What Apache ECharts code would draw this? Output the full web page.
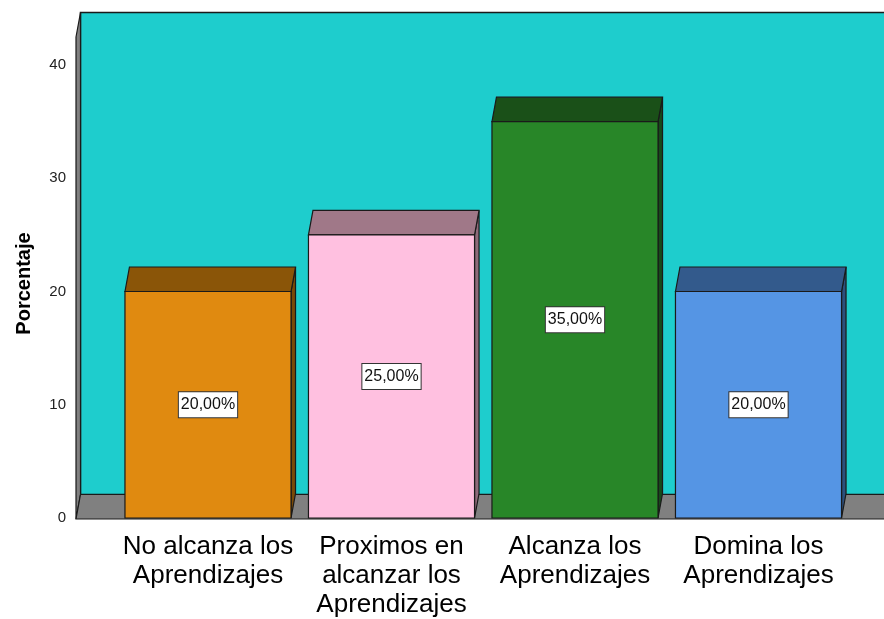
<!DOCTYPE html>
<html>
<head>
<meta charset="utf-8">
<script src="https://cdn.jsdelivr.net/npm/echarts@6/dist/echarts.min.js"></script>
<style>
  html, body { margin: 0; padding: 0; background: #ffffff; }
  #chart { width: 884px; height: 619px; }
</style>
</head>
<body>
<div id="chart"></div>
<script>
// ---- data ----
const categories = [
  'No alcanza los\nAprendizajes',
  'Proximos en\nalcanzar los\nAprendizajes',
  'Alcanza los\nAprendizajes',
  'Domina los\nAprendizajes'
];
const values = [20, 25, 35, 20];
const yAxisName = 'Porcentaje';

// ---- styles ----
const frontColors = ['#E08A10', '#FFC0E0', '#288628', '#5595E4'];
const topColors   = ['#8A5508', '#A07888', '#1A5018', '#335A8C'];
const sideColors  = ['#7A4A07', '#8E6A7A', '#17491A', '#2C4F7C'];
const wallColor = '#1ECDCD';
const floorColor = '#808080';
const edgeColor = '#1a1a1a';
const DX = 4.5, DY = -24.5;       // 3D depth offset
const AXIS_X = 76, Y0 = 519, WALL_TOP = 37, RIGHT = 890;

const chart = echarts.init(document.getElementById('chart'), null, { renderer: 'canvas' });

function fmt(v) { return v.toFixed(2).replace('.', ',') + '%'; }

const option = {
  animation: false,
  backgroundColor: '#ffffff',
  grid: { left: 116.25, right: 33.75, top: 65, bottom: 100, containLabel: false },
  graphic: [
    { type: 'rect', z: -10, silent: true,
      shape: { x: AXIS_X + DX, y: WALL_TOP + DY, width: RIGHT - AXIS_X, height: Y0 - WALL_TOP },
      style: { fill: wallColor, stroke: edgeColor, lineWidth: 1.5 } },
    { type: 'polygon', z: -9, silent: true,
      shape: { points: [[AXIS_X, WALL_TOP], [AXIS_X + DX, WALL_TOP + DY], [AXIS_X + DX, Y0 + DY], [AXIS_X, Y0]] },
      style: { fill: floorColor, stroke: edgeColor, lineWidth: 1.2 } },
    { type: 'polygon', z: -9, silent: true,
      shape: { points: [[AXIS_X, Y0], [AXIS_X + DX, Y0 + DY], [RIGHT, Y0 + DY], [RIGHT, Y0]] },
      style: { fill: floorColor, stroke: edgeColor, lineWidth: 1.2 } }
  ],
  xAxis: {
    type: 'category',
    data: categories,
    axisLine: { show: false },
    axisTick: { show: false },
    splitLine: { show: false },
    axisLabel: {
      interval: 0,
      margin: 14,
      fontSize: 26,
      lineHeight: 29,
      color: '#000',
      fontFamily: '"Liberation Sans", Arial, sans-serif'
    }
  },
  yAxis: {
    type: 'value',
    min: 0,
    max: 40,
    interval: 10,
    offset: 40.25,
    name: yAxisName,
    nameLocation: 'middle',
    nameRotate: 90,
    nameGap: 42,
    nameTextStyle: {
      fontSize: 20,
      fontWeight: 'bold',
      color: '#000',
      fontFamily: '"Liberation Sans", Arial, sans-serif',
      padding: [0, 0, 0, 16]
    },
    axisLine: { show: false },
    axisTick: { show: false },
    splitLine: { show: false },
    axisLabel: {
      margin: 10,
      fontSize: 15,
      color: '#222',
      fontFamily: '"Liberation Sans Narrow", "Arial Narrow", "Liberation Sans", sans-serif'
    }
  },
  series: [{
    type: 'custom',
    data: values.map((v, i) => [i, v]),
    encode: { x: 0, y: 1 },
    renderItem: function (params, api) {
      const idx = api.value(0);
      const v = api.value(1);
      const base = api.coord([idx, 0]);
      const top = api.coord([idx, v]);
      const mid = api.coord([idx, v / 2]);
      const band = api.size([1, 0])[0];
      const w = band * 0.905;
      const xl = base[0] - w / 2, xr = base[0] + w / 2;
      const yb = base[1], yt = top[1];
      return {
        type: 'group',
        children: [
          { type: 'polygon',
            shape: { points: [[xr, yt], [xr + DX, yt + DY], [xr + DX, yb + DY], [xr, yb]] },
            style: { fill: sideColors[idx], stroke: edgeColor, lineWidth: 1.2 } },
          { type: 'polygon',
            shape: { points: [[xl, yt], [xl + DX, yt + DY], [xr + DX, yt + DY], [xr, yt]] },
            style: { fill: topColors[idx], stroke: edgeColor, lineWidth: 1.2 } },
          { type: 'rect',
            shape: { x: xl, y: yt, width: w, height: yb - yt },
            style: { fill: frontColors[idx], stroke: edgeColor, lineWidth: 1.2 } },
          { type: 'text',
            x: base[0], y: mid[1],
            style: {
              text: fmt(v),
              align: 'center',
              verticalAlign: 'middle',
              fontSize: 16,
              fontFamily: '"Liberation Sans Narrow", "Arial Narrow", "Liberation Sans", sans-serif',
              fill: '#111',
              backgroundColor: '#ffffff',
              borderColor: '#333',
              borderWidth: 1,
              padding: [5, 2, 4, 2]
            } }
        ]
      };
    }
  }]
};

chart.setOption(option);
</script>
</body>
</html>
